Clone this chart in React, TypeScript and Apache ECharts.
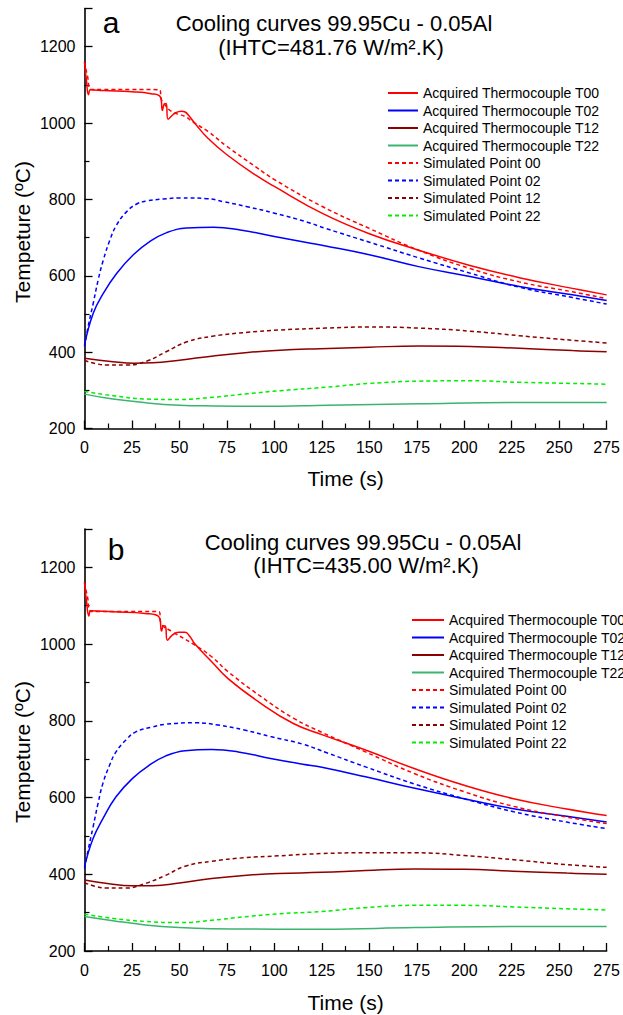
import React, { useEffect, useRef } from 'react';
import * as echarts from 'echarts';

const FONT = '"Liberation Sans", Arial, sans-serif';

const seriesNames = [
  'Acquired Thermocouple T00',
  'Acquired Thermocouple T02',
  'Acquired Thermocouple T12',
  'Acquired Thermocouple T22',
  'Simulated Point 00',
  'Simulated Point 02',
  'Simulated Point 12',
  'Simulated Point 22',
];
const seriesColors = ['#ff0000', '#0000ff', '#8b0000', '#3cb371', '#ff0000', '#0000ff', '#8b0000', '#00ee00'];
const seriesDashed = [false, false, false, false, true, true, true, true];

const xTicks = { min: 0, max: 275, interval: 25 };
const yTicks = { min: 200, max: 1300, interval: 200 };

// ---- Chart a (IHTC = 481.76) ----
const aT00: number[][] = [[0,1160],[1,1113],[2.1,1074],[3.2,1087],[10,1085],[25,1082],[35,1077],[40,1068],[41,1033],[41.9,1048],[43,1051],[44,1010],[46,1019],[48,1027],[51,1031],[53,1029],[55,1019],[58,1000],[65,960],[75,917],[90,864],[100,834],[125,764],[150,710],[176,667],[203,627],[229,595],[257,567],[275,550]];
const aT02: number[][] = [[0,419],[4.6,502],[9.9,554],[16.9,606],[25.7,655],[34.5,690],[43.3,713],[53.9,725],[68,727],[82,720],[100,703],[117,687],[127,678],[150,655],[176,624],[203,598],[229,572],[257,550],[275,535]];
const aT12: number[][] = [[0,384],[15,375],[26,371],[36,372],[50,379],[68,390],[86,399],[103,405],[124,409],[150,413],[176,416],[203,415],[229,410],[257,404],[275,401]];
const aT22: number[][] = [[0,290],[15,277],[33,267],[50,261],[68,259],[94,258],[128,261],[176,265],[229,268],[257,268],[275,268]];
const aS00: number[][] = [[0,1160],[1.5,1125],[3.7,1088],[10,1088],[25,1088],[39.5,1087],[40.5,1062],[42,1050],[46,1030],[53,1017],[57,1003],[65,978],[75,939],[90,886],[100,852],[125,782],[150,724],[176,667],[203,619],[229,584],[257,558],[275,540]];
const aS02: number[][] = [[0,415],[1.9,467],[4.6,528],[7.2,589],[9.9,641],[13.4,694],[16.9,733],[22.2,768],[27.5,788],[32.7,796],[41.5,801],[50.4,804],[64.4,802],[73.2,794],[85.6,781],[100,764],[117,741],[127,724],[150,688],[176,647],[203,607],[229,570],[257,543],[275,526]];
const aS12: number[][] = [[0,378],[6,370],[12,366],[22,366],[33,377],[43,401],[54,427],[68,442],[86,452],[103,458],[127,463],[150,466],[176,463],[203,455],[229,443],[257,431],[275,424]];
const aS22: number[][] = [[0,297],[15,286],[33,277],[50,276],[68,282],[86,291],[103,299],[127,308],[150,318],[176,324],[203,325],[229,321],[257,318],[275,316]];

// ---- Chart b (IHTC = 435.00) ----
const bT00: number[][] = [[0,1160],[1,1115],[2.3,1073],[3.3,1087],[15,1084],[32,1080],[39.2,1071],[40.6,1034],[41.6,1048],[42.6,1047],[43.7,1010],[46.1,1023],[49.6,1031],[53,1031],[55.6,1019],[58.2,1000],[67,954],[75.6,910],[93,845],[110,793],[125,764],[148,724],[174,675],[200,632],[226,597],[254,570],[275,553]];
const bT02: number[][] = [[0,420],[4.5,493],[9.7,545],[16.6,602],[25.3,650],[34,684],[42.6,708],[53,722],[67,725],[81,719],[98,702],[115,687],[125,679],[148,654],[174,624],[200,597],[226,571],[254,551],[275,536]];
const bT12: number[][] = [[0,385],[12,376],[25,370],[36,370],[50,377],[67,389],[84,397],[102,402],[125,405],[148,410],[174,414],[200,413],[226,408],[254,403],[275,400]];
const bT22: number[][] = [[0,290],[15,279],[32,268],[50,261],[67,258],[102,257],[125,257],[174,261],[226,264],[254,264],[275,264]];
const bS00: number[][] = [[0,1160],[1.5,1125],[3.6,1085],[15,1085],[39,1085],[40.6,1052],[46,1033],[58,998],[67,967],[75.6,928],[93,863],[110,807],[125,770],[148,719],[174,662],[200,615],[226,577],[254,549],[275,532]];
const bS02: number[][] = [[0,415],[1.9,463],[4.5,523],[7.1,584],[9.7,637],[13.2,684],[16.6,719],[21.8,750],[27,771],[35.7,784],[42.6,791],[58.2,795],[70.4,789],[84.2,776],[98,759],[115,739],[128,716],[148,680],[174,635],[200,597],[226,563],[254,536],[275,519]];
const bS12: number[][] = [[0,378],[6,368],[11.4,364],[21.8,364],[32,376],[42.6,397],[53,421],[67,434],[84,443],[102,448],[125,454],[148,456],[174,456],[200,449],[226,438],[254,425],[275,418]];
const bS22: number[][] = [[0,296],[15,285],[32,277],[50,274],[67,280],[84,289],[102,297],[125,303],[148,313],[174,319],[200,319],[226,315],[254,310],[275,307]];

const chartAData = [aT00, aT02, aT12, aT22, aS00, aS02, aS12, aS22];
const chartBData = [bT00, bT02, bT12, bT22, bS00, bS02, bS12, bS22];

const titleLine1 = 'Cooling curves 99.95Cu - 0.05Al';
const titleA2 = '(IHTC=481.76 W/m².K)';
const titleB2 = '(IHTC=435.00 W/m².K)';
const yName = 'Tempeture (ºC)';
const xName = 'Time (s)';

function makeX(gridIndex: number, nameGap: number) {
  return {
    type: 'value',
    gridIndex,
    min: xTicks.min,
    max: xTicks.max,
    interval: xTicks.interval,
    name: xName,
    nameLocation: 'middle',
    nameGap,
    nameTextStyle: { fontFamily: FONT, fontSize: 21, color: '#000' },
    axisLine: { show: true, onZero: false, lineStyle: { color: '#000', width: 1.6 } },
    axisTick: { show: true, inside: true, length: 8, lineStyle: { color: '#000', width: 1.3 } },
    minorTick: { show: true, splitNumber: 2, length: 5, lineStyle: { color: '#000', width: 1.2 } },
    splitLine: { show: false },
    minorSplitLine: { show: false },
    axisLabel: { fontFamily: FONT, fontSize: 16, color: '#000', margin: 11, formatter: (v: number) => String(v) },
  };
}
function makeY(gridIndex: number) {
  return {
    type: 'value',
    gridIndex,
    min: yTicks.min,
    max: yTicks.max,
    interval: yTicks.interval,
    axisLine: { show: true, onZero: false, lineStyle: { color: '#000', width: 1.6 } },
    axisTick: { show: true, inside: true, length: 8, lineStyle: { color: '#000', width: 1.3 } },
    minorTick: { show: true, splitNumber: 2, length: 5, lineStyle: { color: '#000', width: 1.2 } },
    splitLine: { show: false },
    minorSplitLine: { show: false },
    axisLabel: {
      fontFamily: FONT, fontSize: 16, color: '#000', margin: 9, showMaxLabel: false,
      formatter: (v: number) => (v > 1250 ? '' : String(v)),
    },
  };
}

function makeSeries(data: number[][][], idx: number) {
  return data.map((d, i) => ({
    type: 'line',
    name: seriesNames[i],
    xAxisIndex: idx,
    yAxisIndex: idx,
    data: d,
    symbol: 'none',
    showSymbol: false,
    smooth: 0.45,
    lineStyle: {
      color: seriesColors[i],
      width: 1.5,
      type: seriesDashed[i] ? [4, 3] : 'solid',
    },
    itemStyle: { color: seriesColors[i] },
    z: seriesDashed[i] ? 3 : 2,
  }));
}

function makeLegend(left: number, top: number, itemWidth: number) {
  return {
    orient: 'vertical',
    left,
    top,
    itemWidth,
    itemHeight: 10,
    itemGap: 3.5,
    padding: 0,
    selectedMode: false,
    data: seriesNames,
    itemStyle: { opacity: 0 },
    textStyle: { fontFamily: FONT, fontSize: 14, color: '#000', lineHeight: 14 },
  };
}

function txt(text: string, x: number, y: number, size: number, rotation = 0) {
  return {
    type: 'text',
    x,
    y,
    rotation,
    silent: true,
    style: {
      text,
      fill: '#000',
      fontFamily: FONT,
      fontSize: size,
      font: `${size}px ${FONT}`,
      textAlign: 'center',
      textVerticalAlign: 'middle',
      align: 'center',
      verticalAlign: 'middle',
    },
  };
}

export default function App() {
  const ref = useRef<HTMLDivElement>(null);
  useEffect(() => {
    if (!ref.current) return;
    const chart = echarts.init(ref.current, undefined, { renderer: 'svg' });
    chart.setOption({
      animation: false,
      backgroundColor: '#ffffff',
      grid: [
        { left: 84.5, top: 8.5, width: 522.5, height: 420 },
        { left: 84.5, top: 529, width: 528.5, height: 422 },
      ],
      xAxis: [makeX(0, 39), makeX(1, 41)],
      yAxis: [makeY(0), makeY(1)],
      legend: [makeLegend(387, 86, 30), makeLegend(411, 613, 32)],
      series: [...makeSeries(chartAData, 0), ...makeSeries(chartBData, 1)],
      graphic: [
        txt('a', 111, 22, 30),
        txt(titleLine1, 334, 23, 22),
        txt(titleA2, 331, 47, 22),
        txt('b', 116, 549, 30),
        txt(titleLine1, 363, 542, 22),
        txt(titleB2, 366, 565, 22),
        txt(yName, 22, 232, 21, Math.PI / 2),
        txt(yName, 22, 752, 21, Math.PI / 2),
      ],
    });
    return () => chart.dispose();
  }, []);
  return <div ref={ref} style={{ position: 'absolute', left: 0, top: 0, width: 623, height: 1015 }} />;
}
